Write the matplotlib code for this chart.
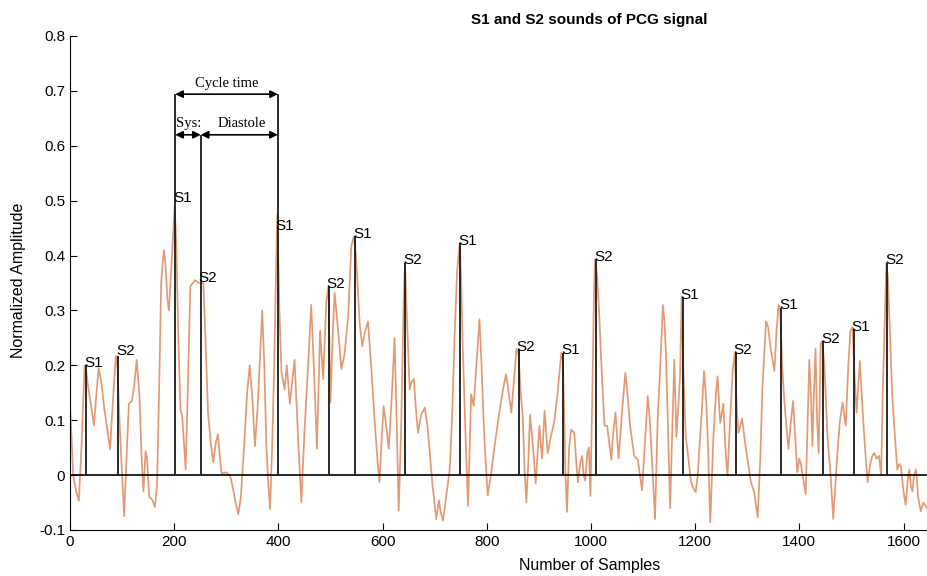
import matplotlib
matplotlib.use("Agg")
from matplotlib import pyplot as plt

# envelope of the PCG signal (sample, normalized amplitude)
samples = [
    0, 3, 6, 12, 17, 22, 28, 31, 35, 40, 46, 50, 55, 60, 66, 72, 77, 82, 88, 91,
    95, 100, 104, 108, 113, 119, 124, 128, 133, 138, 141, 145, 148, 152, 158, 163, 167, 171, 175, 180,
    183, 187, 190, 194, 198, 201, 204, 208, 212, 215, 218, 222, 226, 231, 240, 248, 256, 260, 265, 270,
    275, 280, 284, 288, 291, 300, 307, 312, 318, 323, 328, 334, 340, 345, 350, 355, 360, 365, 369, 373,
    377, 381, 384, 388, 392, 396, 398, 402, 406, 412, 416, 422, 431, 438, 444, 450, 457, 463, 468, 474,
    480, 486, 492, 496, 500, 504, 508, 514, 521, 527, 534, 540, 545, 549, 556, 561, 566, 572, 578, 585,
    590, 594, 598, 602, 607, 612, 618, 623, 627, 631, 636, 640, 643, 647, 652, 656, 660, 664, 668, 674,
    681, 686, 690, 696, 703, 708, 712, 716, 722, 729, 734, 738, 743, 748, 751, 754, 759, 764, 768, 770,
    775, 780, 786, 790, 794, 798, 802, 808, 815, 822, 830, 837, 842, 847, 852, 857, 861, 865, 869, 873,
    876, 880, 883, 888, 894, 901, 906, 911, 917, 923, 930, 936, 943, 946, 949, 951, 954, 958, 962, 968,
    972, 975, 979, 983, 986, 989, 993, 996, 999, 1003, 1006, 1008, 1012, 1016, 1021, 1026, 1031, 1035, 1039, 1043,
    1047, 1053, 1060, 1066, 1070, 1075, 1083, 1090, 1094, 1098, 1103, 1109, 1113, 1118, 1123, 1128, 1133, 1138, 1141, 1144,
    1148, 1152, 1156, 1160, 1164, 1168, 1171, 1174, 1177, 1182, 1187, 1192, 1197, 1201, 1205, 1208, 1213, 1217, 1221, 1224,
    1229, 1235, 1240, 1243, 1248, 1251, 1254, 1258, 1262, 1267, 1272, 1276, 1280, 1283, 1290, 1297, 1302, 1307, 1313, 1320,
    1325, 1329, 1336, 1340, 1345, 1352, 1356, 1360, 1363, 1367, 1371, 1375, 1379, 1384, 1388, 1392, 1396, 1400, 1403, 1408,
    1412, 1416, 1419, 1422, 1425, 1428, 1431, 1434, 1437, 1441, 1444, 1448, 1454, 1460, 1465, 1469, 1473, 1478, 1483, 1489,
    1494, 1498, 1502, 1506, 1510, 1516, 1522, 1526, 1531, 1536, 1540, 1544, 1548, 1553, 1557, 1560, 1563, 1567, 1570, 1574,
    1578, 1582, 1588, 1592, 1595, 1600, 1604, 1608, 1611, 1614, 1617, 1620, 1624, 1628, 1633, 1638, 1645,
]
amplitude = [
    0.13, 0.07, 0.0, -0.03, -0.047, 0.05, 0.20, 0.19, 0.16, 0.13, 0.09, 0.14, 0.195, 0.17, 0.12, 0.08, 0.047, 0.13, 0.217, 0.20,
    0.10, 0.0, -0.075, 0.02, 0.13, 0.135, 0.17, 0.21, 0.15, 0.02, -0.03, 0.044, 0.03, -0.04, -0.045, -0.058, -0.02, 0.15, 0.35, 0.41,
    0.39, 0.32, 0.30, 0.37, 0.44, 0.49, 0.42, 0.25, 0.12, 0.11, 0.07, 0.01, 0.15, 0.344, 0.355, 0.35, 0.35, 0.25, 0.114, 0.06,
    0.023, 0.06, 0.074, 0.03, 0.003, 0.005, 0.0, -0.02, -0.05, -0.071, -0.04, 0.05, 0.15, 0.20, 0.14, 0.053, 0.12, 0.22, 0.30, 0.20,
    0.05, -0.02, -0.062, 0.05, 0.20, 0.40, 0.475, 0.30, 0.187, 0.156, 0.20, 0.13, 0.21, 0.065, -0.05, 0.077, 0.20, 0.31, 0.20, 0.048,
    0.263, 0.175, 0.317, 0.344, 0.132, 0.25, 0.332, 0.27, 0.193, 0.22, 0.29, 0.417, 0.435, 0.40, 0.277, 0.235, 0.26, 0.28, 0.20, 0.096,
    0.03, -0.013, 0.06, 0.126, 0.09, 0.048, 0.15, 0.25, 0.10, -0.065, 0.10, 0.30, 0.387, 0.28, 0.156, 0.17, 0.175, 0.12, 0.077, 0.11,
    0.123, 0.09, 0.048, -0.02, -0.08, -0.046, -0.07, -0.083, -0.04, 0.011, 0.12, 0.247, 0.37, 0.423, 0.35, 0.23, 0.08, -0.056, 0.08, 0.147,
    0.126, 0.20, 0.284, 0.20, 0.096, 0.02, -0.037, 0.0, 0.053, 0.10, 0.15, 0.184, 0.15, 0.114, 0.17, 0.23, 0.22, 0.15, 0.108, 0.0,
    -0.05, 0.03, 0.11, 0.06, -0.015, 0.09, 0.03, 0.117, 0.04, 0.07, 0.10, 0.15, 0.223, 0.21, 0.10, 0.0, -0.067, 0.05, 0.083, 0.077,
    0.02, -0.013, 0.02, 0.035, 0.0, -0.01, 0.04, 0.05, -0.038, 0.17, 0.34, 0.393, 0.36, 0.29, 0.18, 0.09, 0.09, 0.06, 0.028, 0.08,
    0.114, 0.03, 0.12, 0.186, 0.15, 0.09, 0.035, 0.028, 0.0, -0.028, 0.05, 0.144, 0.10, 0.01, -0.08, 0.10, 0.20, 0.31, 0.28, 0.22,
    0.08, -0.06, 0.08, 0.21, 0.07, 0.13, 0.18, 0.325, 0.20, 0.07, 0.03, -0.013, -0.025, -0.031, 0.0, 0.047, 0.12, 0.19, 0.14, 0.07,
    -0.086, 0.07, 0.15, 0.18, 0.095, 0.11, 0.13, 0.05, -0.001, 0.10, 0.19, 0.223, 0.12, 0.077, 0.103, 0.05, 0.02, -0.013, -0.03, -0.077,
    0.03, 0.156, 0.28, 0.27, 0.23, 0.19, 0.26, 0.31, 0.305, 0.20, 0.138, 0.09, 0.048, 0.10, 0.135, 0.07, 0.005, 0.03, 0.02, -0.01,
    -0.035, 0.10, 0.21, 0.15, 0.053, 0.15, 0.23, 0.10, 0.04, 0.24, 0.244, 0.20, 0.07, 0.0, -0.08, -0.02, 0.04, 0.10, 0.132, 0.09,
    0.20, 0.263, 0.27, 0.18, 0.114, 0.208, 0.108, 0.05, -0.013, 0.02, 0.035, 0.04, 0.03, 0.035, 0.0, 0.15, 0.253, 0.387, 0.36, 0.253,
    0.15, 0.09, 0.01, 0.02, 0.015, -0.03, -0.054, -0.01, 0.01, -0.02, -0.03, 0.0, 0.01, -0.04, -0.066, -0.05, -0.06,
]

# detected heart sounds
sound_pos = [31, 93, 202, 251, 399, 497, 548, 644, 749, 861, 947, 1010, 1176, 1278, 1365, 1446, 1504, 1569]
sound_names = ["S1", "S2"] * 9
line_tops = [0.20, 0.217, 0.694, 0.62, 0.694, 0.344, 0.435, 0.387, 0.423, 0.23,
             0.223, 0.393, 0.325, 0.223, 0.305, 0.244, 0.266, 0.387]
label_y = [0.20, 0.222, 0.50, 0.355, 0.45, 0.344, 0.435, 0.387, 0.423, 0.23,
           0.223, 0.393, 0.325, 0.223, 0.305, 0.244, 0.266, 0.387]

x_ticks = [0, 200, 400, 600, 800, 1000, 1200, 1400, 1600]
y_ticks = [-0.1, 0, 0.1, 0.2, 0.3, 0.4, 0.5, 0.6, 0.7, 0.8]
y_tick_labels = ["-0.1", "0", "0.1", "0.2", "0.3", "0.4", "0.5", "0.6", "0.7", "0.8"]

plt.rcParams["font.family"] = ["Liberation Sans", "DejaVu Sans"]

fig = plt.figure(figsize=(9.27, 5.76), dpi=100)
ax = fig.add_axes([0.0755, 0.0799, 0.9245, 0.8576])

ax.plot(samples, amplitude, color="#E39A74", lw=1.25, solid_joinstyle="round", zorder=2)
ax.axhline(0, color="black", lw=1.2, zorder=3)

for pos, name, top, ly in zip(sound_pos, sound_names, line_tops, label_y):
    ax.vlines(pos, 0, top, color="#1a1a1a", lw=1.3, zorder=4)
    ax.text(pos - 4, ly + 0.004, name, fontsize=11, ha="left", va="center", zorder=5)

# cycle time / systole / diastole arrows
arrow = dict(arrowstyle="<|-|>", color="black", lw=1.2, mutation_scale=11, shrinkA=0, shrinkB=0)
ax.annotate("", xy=(202, 0.694), xytext=(399, 0.694), arrowprops=arrow)
ax.annotate("", xy=(202, 0.62), xytext=(251, 0.62), arrowprops=arrow)
ax.annotate("", xy=(251, 0.62), xytext=(399, 0.62), arrowprops=arrow)
serif = ["Liberation Serif", "DejaVu Serif"]
ax.text(300, 0.702, "Cycle time", family=serif, fontsize=10.5, ha="center", va="bottom")
ax.text(203, 0.628, "Sys:", family=serif, fontsize=10.5, ha="left", va="bottom")
ax.text(330, 0.628, "Diastole", family=serif, fontsize=10.5, ha="center", va="bottom")

ax.set_xlim(0, 1645)
ax.set_ylim(-0.1, 0.8)
ax.set_xticks(x_ticks)
ax.set_yticks(y_ticks)
ax.set_yticklabels(y_tick_labels)
ax.tick_params(direction="in", labelsize=11, length=5)
ax.spines["top"].set_visible(False)
ax.spines["right"].set_visible(False)

fig.text(0.636, 0.965, "S1 and S2 sounds of PCG signal", fontsize=11, fontweight="bold", ha="center", va="center")
fig.text(0.636, 0.018, "Number of Samples", fontsize=11.5, ha="center", va="center")
fig.text(0.02, 0.514, "Normalized Amplitude", fontsize=11.5, rotation=90, ha="center", va="center")

fig.savefig("out.png", dpi=100)
